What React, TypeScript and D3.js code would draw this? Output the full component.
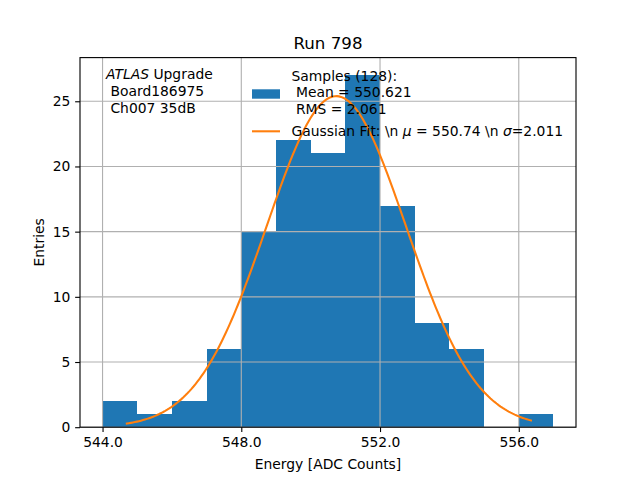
import { useRef, useEffect } from "react";
import * as d3 from "d3";

// histogram: bin lower edges (width 1) and counts
const binEdges = [544, 545, 546, 547, 548, 549, 550, 551, 552, 553, 554, 555, 556];
const binCounts = [2, 1, 2, 6, 15, 22, 21, 27, 17, 8, 6, 0, 1];
const binWidth = 1;

// gaussian fit parameters from the legend
const fitMu = 550.74;
const fitSigma = 2.011;
const fitRange = [544.7, 556.35];
const nSamples = 128;

const xTicks = [544, 548, 552, 556];
const yTicks = [0, 5, 10, 15, 20, 25];

const BLUE = "#1f77b4";
const ORANGE = "#ff7f0e";
const FONT = "DejaVu Sans, sans-serif";
const FS = "13.89px";
const PT = 100 / 72;

export default function App() {
  const svgRef = useRef<SVGSVGElement>(null);

  useEffect(() => {
    if (!svgRef.current) return;
    const svg = d3.select(svgRef.current);
    svg.selectAll("*").remove();

    const width = 640;
    const height = 480;
    const margin = { top: 57.6, right: 64, bottom: 52.8, left: 80 };
    const w = width - margin.left - margin.right;
    const h = height - margin.top - margin.bottom;

    svg.attr("width", width).attr("height", height);
    svg.append("rect").attr("width", width).attr("height", height).attr("fill", "white");

    const g = svg.append("g").attr("transform", `translate(${margin.left},${margin.top})`);

    const xMin = binEdges[0];
    const xMax = binEdges[binEdges.length - 1] + binWidth;
    const xPad = (xMax - xMin) * 0.05;
    const x = d3.scaleLinear().domain([xMin - xPad, xMax + xPad]).range([0, w]);
    const yMax = d3.max(binCounts) ?? 1;
    const y = d3.scaleLinear().domain([0, yMax * 1.05]).range([h, 0]);

    // bars
    g.selectAll("rect.bar")
      .data(binEdges.map((e, i) => ({ e, c: binCounts[i] })))
      .join("rect")
      .attr("class", "bar")
      .attr("x", (d) => x(d.e))
      .attr("width", (d) => x(d.e + binWidth) - x(d.e))
      .attr("y", (d) => y(d.c))
      .attr("height", (d) => y(0) - y(d.c))
      .attr("fill", BLUE)
      .attr("shape-rendering", "crispEdges");

    // grid on top of bars
    const grid = g.append("g").attr("stroke", "#b0b0b0").attr("stroke-width", 0.8 * PT);
    xTicks.forEach((t) => {
      grid.append("line").attr("x1", x(t)).attr("x2", x(t)).attr("y1", 0).attr("y2", h);
    });
    yTicks.forEach((t) => {
      grid.append("line").attr("x1", 0).attr("x2", w).attr("y1", y(t)).attr("y2", y(t));
    });

    // gaussian fit curve
    const amp = (nSamples * binWidth) / (fitSigma * Math.sqrt(2 * Math.PI));
    const xs = d3.range(0, 201).map((i) => fitRange[0] + (i / 200) * (fitRange[1] - fitRange[0]));
    const line = d3
      .line<number>()
      .x((v) => x(v))
      .y((v) => y(amp * Math.exp(-((v - fitMu) ** 2) / (2 * fitSigma * fitSigma))));
    g.append("path")
      .datum(xs)
      .attr("fill", "none")
      .attr("stroke", ORANGE)
      .attr("stroke-width", 1.5 * PT)
      .attr("stroke-linecap", "square")
      .attr("d", line);

    // axes
    const tick = 3.5 * PT;
    const xAxis = g
      .append("g")
      .attr("transform", `translate(0,${h})`)
      .call(d3.axisBottom(x).tickValues(xTicks).tickFormat(d3.format(".1f")).tickSizeOuter(0).tickSize(tick).tickPadding(tick));
    const yAxis = g
      .append("g")
      .call(d3.axisLeft(y).tickValues(yTicks).tickSizeOuter(0).tickSize(tick).tickPadding(tick));
    [xAxis, yAxis].forEach((a) => {
      a.select(".domain").remove();
      a.selectAll(".tick line").attr("stroke", "black").attr("stroke-width", 0.8 * PT);
      a.selectAll(".tick text")
        .attr("fill", "black")
        .attr("font-family", FONT)
        .attr("font-size", FS);
    });

    g.append("rect")
      .attr("width", w)
      .attr("height", h)
      .attr("fill", "none")
      .attr("stroke", "black")
      .attr("stroke-width", 0.8 * PT);

    // labels
    const text = (sel: d3.Selection<any, unknown, null, undefined>) =>
      sel.attr("font-family", FONT).attr("font-size", FS).attr("fill", "black");

    svg.append("text")
      .call(text)
      .attr("x", margin.left + w / 2)
      .attr("y", 469)
      .attr("text-anchor", "middle")
      .text("Energy [ADC Counts]");

    svg.append("text")
      .call(text)
      .attr("transform", `translate(44,${margin.top + h / 2}) rotate(-90)`)
      .attr("text-anchor", "middle")
      .text("Entries");

    svg.append("text")
      .call(text)
      .attr("font-size", "16.67px")
      .attr("x", margin.left + w / 2)
      .attr("y", 49)
      .attr("text-anchor", "middle")
      .text("Run 798");

    // info box
    const info = svg.append("text").call(text).attr("xml:space", "preserve");
    const l1 = info.append("tspan").attr("x", 106).attr("y", 79.3);
    l1.append("tspan").attr("font-style", "italic").text("ATLAS");
    l1.append("tspan").text(" Upgrade");
    info.append("tspan").attr("x", 106).attr("y", 96).text(" Board186975");
    info.append("tspan").attr("x", 106).attr("y", 112.7).text(" Ch007 35dB");

    // legend
    svg.append("rect")
      .attr("x", 252)
      .attr("y", 89.3)
      .attr("width", 28)
      .attr("height", 9.4)
      .attr("fill", BLUE);
    const leg = svg.append("text").call(text).attr("xml:space", "preserve");
    leg.append("tspan").attr("x", 291.5).attr("y", 80.7).text("Samples (128):");
    leg.append("tspan").attr("x", 291.5).attr("y", 97.3).text(" Mean = 550.621");
    leg.append("tspan").attr("x", 291.5).attr("y", 114).text(" RMS = 2.061");

    svg.append("line")
      .attr("x1", 252)
      .attr("x2", 280)
      .attr("y1", 131.3)
      .attr("y2", 131.3)
      .attr("stroke", ORANGE)
      .attr("stroke-width", 1.5 * PT);
    const fit = svg.append("text").call(text).attr("xml:space", "preserve").attr("x", 291.5).attr("y", 136);
    fit.append("tspan").text("Gaussian Fit: \\n ");
    fit.append("tspan").attr("font-style", "italic").text("μ");
    fit.append("tspan").text(" = 550.74 \\n ");
    fit.append("tspan").attr("font-style", "italic").text("σ");
    fit.append("tspan").text("=2.011");
  }, []);

  return <svg ref={svgRef} style={{ position: "absolute", left: 0, top: 0 }} />;
}
